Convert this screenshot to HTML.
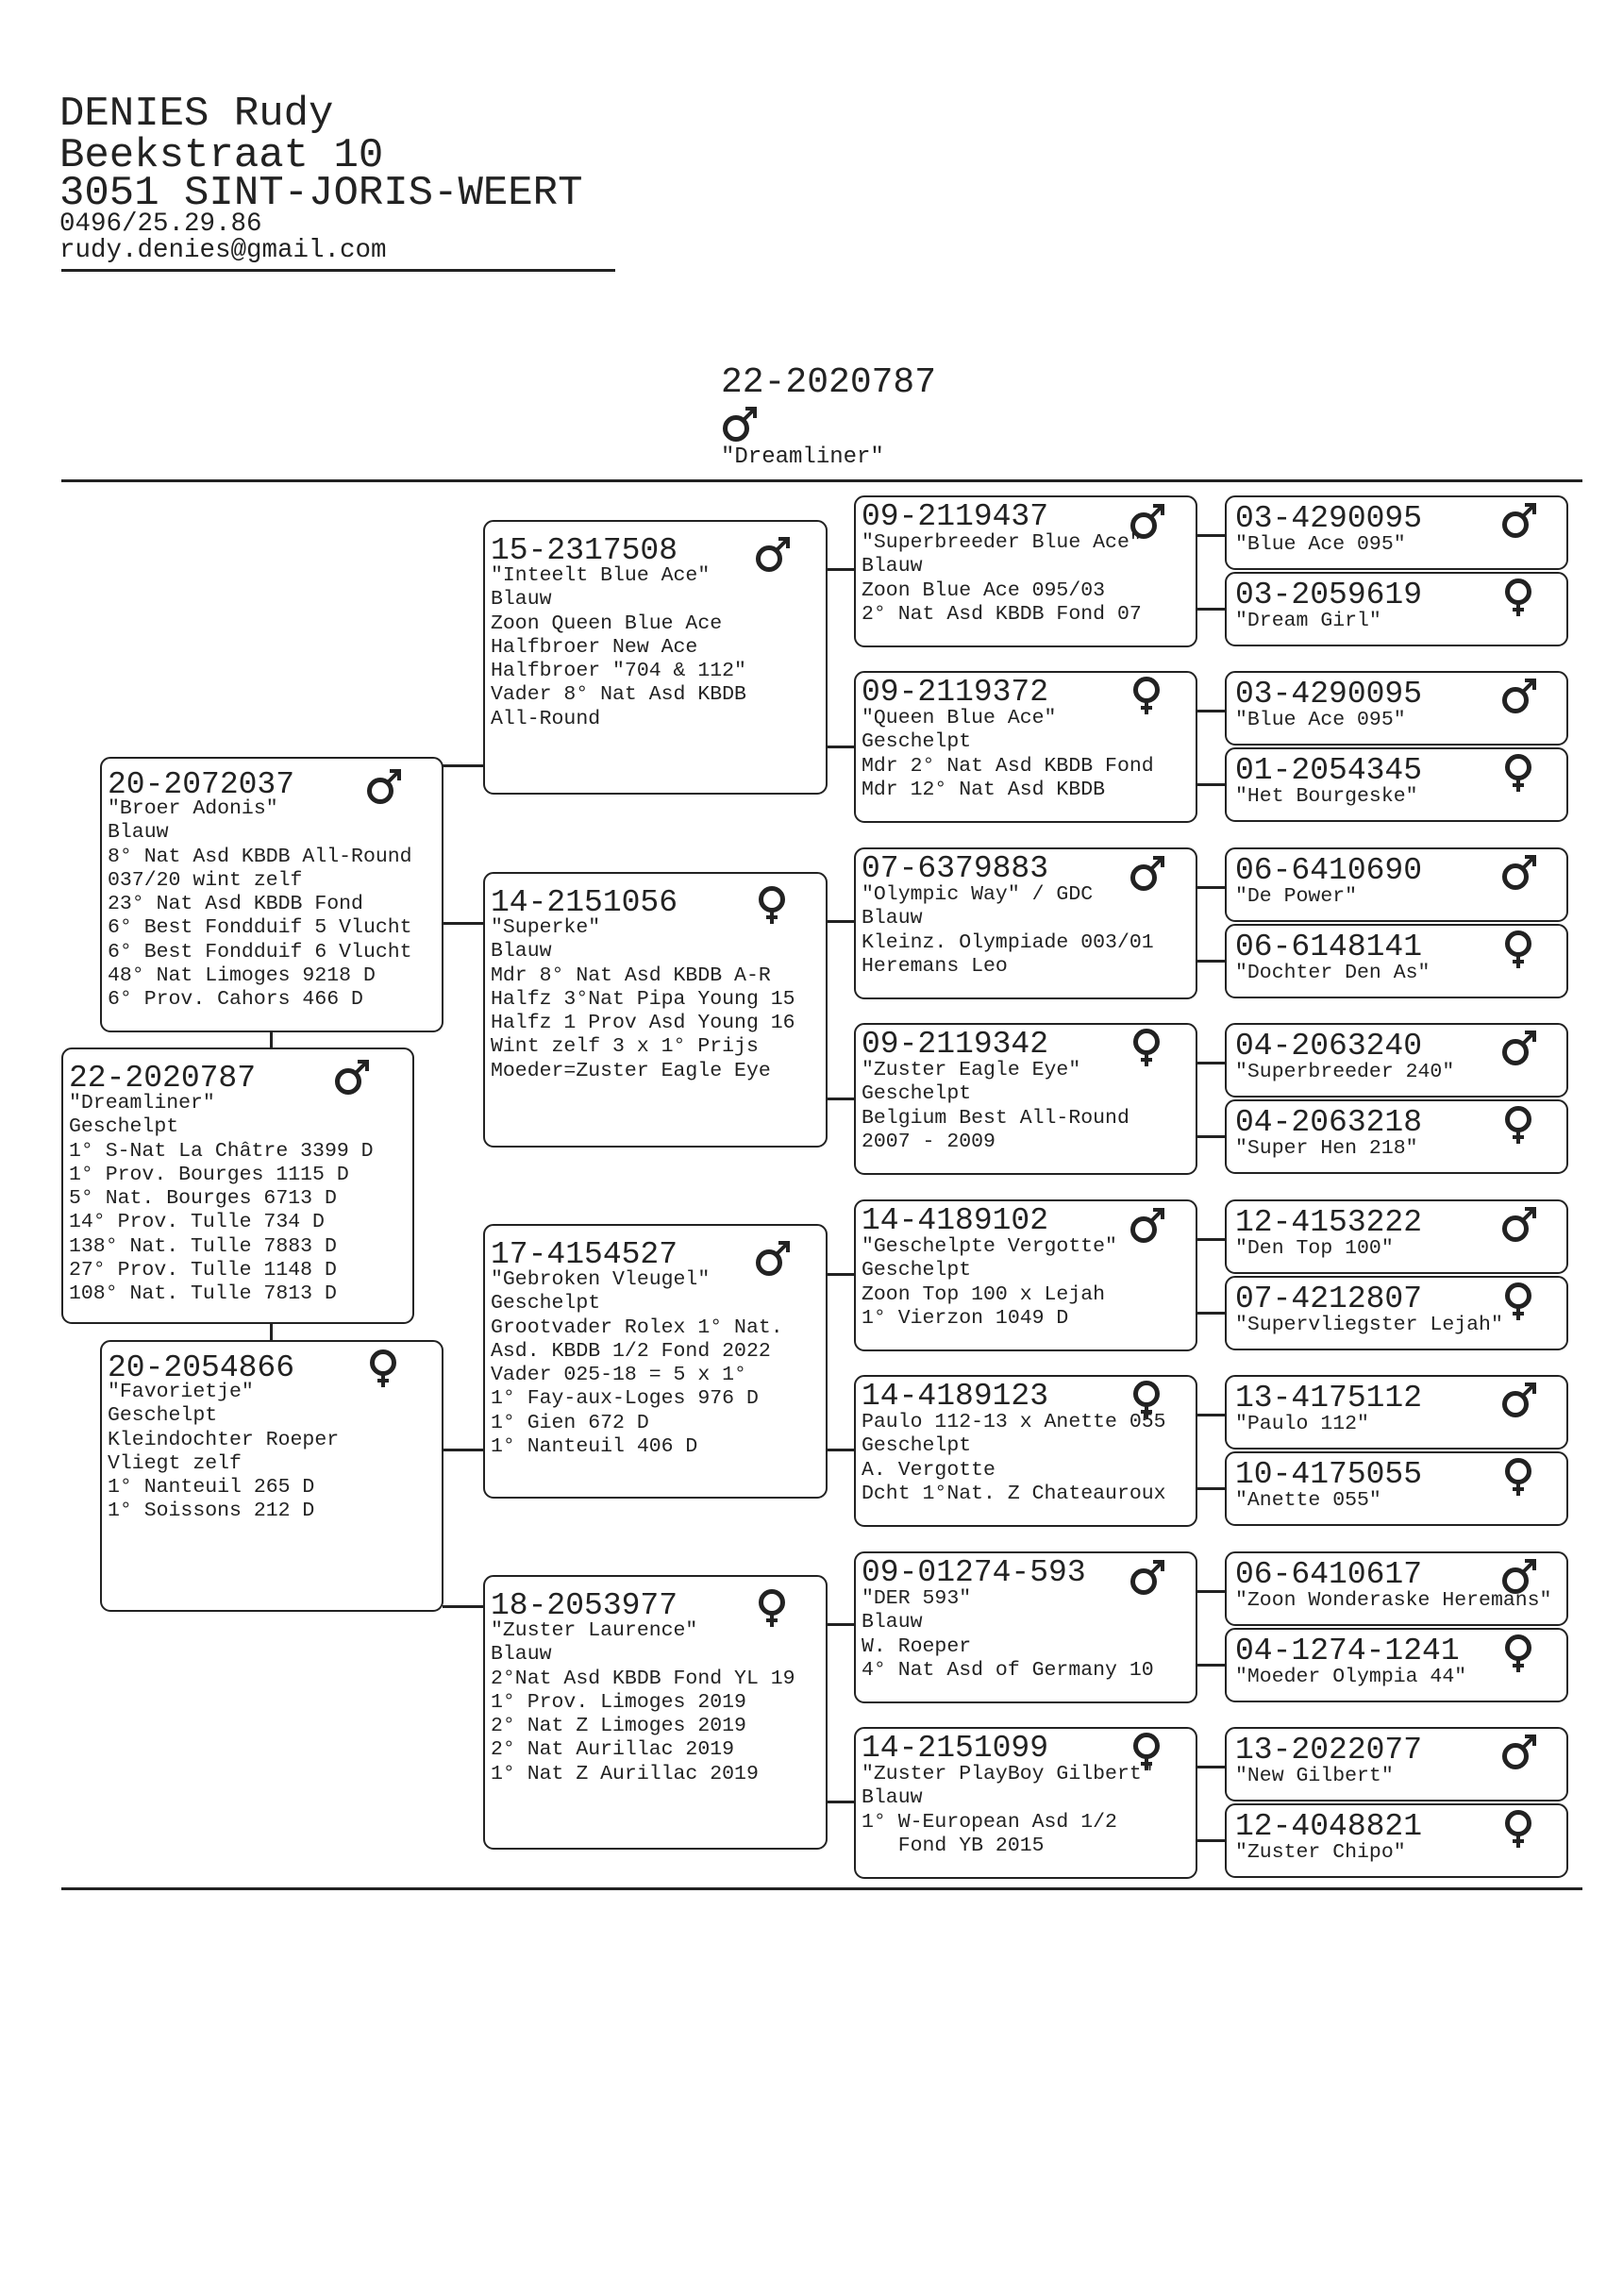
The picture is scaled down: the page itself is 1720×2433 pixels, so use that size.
<!DOCTYPE html>
<html><head><meta charset="utf-8">
<style>
body{margin:0;background:#fff;}
#p{position:relative;width:1720px;height:2433px;overflow:hidden;background:#fff;font-family:"Liberation Mono","DejaVu Sans Mono",monospace;color:#222;}
.a{position:absolute;white-space:pre;}
.b{position:absolute;border:2.5px solid #222;border-radius:11px;box-sizing:border-box;background:#fff;}
.id{position:absolute;left:6px;font-size:33px;line-height:40px;white-space:pre;}
.tx{position:absolute;left:6px;font-size:21.5px;line-height:25.3px;white-space:pre;}
.g5 .id,.g5 .tx{left:9px;}
.s{position:absolute;width:42px;height:44px;}
.h{position:absolute;background:#222;height:2.5px;}
.v{position:absolute;background:#222;width:2.5px;}
</style></head><body><div id="p">
<svg width="0" height="0" style="position:absolute">
<defs>
<symbol id="m" viewBox="0 0 42 44"><circle cx="18" cy="26" r="11.5" fill="none" stroke="#222" stroke-width="5"/><path d="M26 17 L37 6 M28 5 H38 V15" fill="none" stroke="#222" stroke-width="4"/></symbol>
<symbol id="f" viewBox="0 0 42 44"><circle cx="21" cy="16" r="11.5" fill="none" stroke="#222" stroke-width="5"/><path d="M21 28 V42 M15 35 H27" fill="none" stroke="#222" stroke-width="4"/></symbol>
</defs></svg>

<div class="a" style="left:63px;top:96px;font-size:44px;line-height:50px;">DENIES Rudy</div>
<div class="a" style="left:63px;top:140px;font-size:44px;line-height:50px;">Beekstraat 10</div>
<div class="a" style="left:63px;top:180px;font-size:44px;line-height:50px;">3051 SINT-JORIS-WEERT</div>
<div class="a" style="left:63px;top:222px;font-size:27.5px;line-height:32px;">0496/25.29.86</div>
<div class="a" style="left:63px;top:250px;font-size:27.5px;line-height:32px;">rudy.denies@gmail.com</div>
<div class="h" style="left:65px;top:285px;width:587px;"></div>

<div class="a" style="left:764px;top:384px;font-size:38px;line-height:44px;">22-2020787</div>
<svg class="s" style="left:762px;top:428px;"><use href="#m"/></svg>
<div class="a" style="left:764px;top:470px;font-size:24px;line-height:30px;">"Dreamliner"</div>
<div class="h" style="left:65px;top:508px;width:1612px;height:3px;"></div>
<div class="h" style="left:65px;top:2000px;width:1612px;height:3px;"></div>

<!-- connectors -->
<div class="v" style="left:286px;top:1093px;height:18px;"></div>
<div class="v" style="left:286px;top:1400px;height:21px;"></div>
<div class="h" style="left:469px;top:810px;width:44px;"></div>
<div class="h" style="left:469px;top:977px;width:44px;"></div>
<div class="h" style="left:469px;top:1535px;width:44px;"></div>
<div class="h" style="left:469px;top:1701px;width:44px;"></div>

<div class="h" style="left:876px;top:602px;width:30px;"></div>
<div class="h" style="left:876px;top:790px;width:30px;"></div>
<div class="h" style="left:876px;top:975px;width:30px;"></div>
<div class="h" style="left:876px;top:1163px;width:30px;"></div>
<div class="h" style="left:876px;top:1349px;width:30px;"></div>
<div class="h" style="left:876px;top:1535px;width:30px;"></div>
<div class="h" style="left:876px;top:1720px;width:30px;"></div>
<div class="h" style="left:876px;top:1908px;width:30px;"></div>

<div class="h" style="left:1268px;top:566px;width:31px;"></div>
<div class="h" style="left:1268px;top:644px;width:31px;"></div>
<div class="h" style="left:1268px;top:752px;width:31px;"></div>
<div class="h" style="left:1268px;top:830px;width:31px;"></div>
<div class="h" style="left:1268px;top:939px;width:31px;"></div>
<div class="h" style="left:1268px;top:1017px;width:31px;"></div>
<div class="h" style="left:1268px;top:1125px;width:31px;"></div>
<div class="h" style="left:1268px;top:1203px;width:31px;"></div>
<div class="h" style="left:1268px;top:1312px;width:31px;"></div>
<div class="h" style="left:1268px;top:1390px;width:31px;"></div>
<div class="h" style="left:1268px;top:1498px;width:31px;"></div>
<div class="h" style="left:1268px;top:1576px;width:31px;"></div>
<div class="h" style="left:1268px;top:1685px;width:31px;"></div>
<div class="h" style="left:1268px;top:1763px;width:31px;"></div>
<div class="h" style="left:1268px;top:1871px;width:31px;"></div>
<div class="h" style="left:1268px;top:1949px;width:31px;"></div>

<!-- Gen1 -->
<div class="b" style="left:65px;top:1110px;width:374px;height:293px;">
<div class="id" style="top:11px;">22-2020787</div>
<svg class="s" style="left:284px;top:8px;"><use href="#m"/></svg>
<div class="tx" style="top:45px;">"Dreamliner"
Geschelpt
1° S-Nat La Châtre 3399 D
1° Prov. Bourges 1115 D
5° Nat. Bourges 6713 D
14° Prov. Tulle 734 D
138° Nat. Tulle 7883 D
27° Prov. Tulle 1148 D
108° Nat. Tulle 7813 D</div></div>

<!-- Gen2 -->
<div class="b" style="left:106px;top:802px;width:364px;height:292px;">
<div class="id" style="top:8px;">20-2072037</div>
<svg class="s" style="left:277px;top:8px;"><use href="#m"/></svg>
<div class="tx" style="top:41px;">"Broer Adonis"
Blauw
8° Nat Asd KBDB All-Round
037/20 wint zelf
23° Nat Asd KBDB Fond
6° Best Fondduif 5 Vlucht
6° Best Fondduif 6 Vlucht
48° Nat Limoges 9218 D
6° Prov. Cahors 466 D</div></div>

<div class="b" style="left:106px;top:1420px;width:364px;height:288px;">
<div class="id" style="top:8px;">20-2054866</div>
<svg class="s" style="left:277px;top:6px;"><use href="#f"/></svg>
<div class="tx" style="top:41px;">"Favorietje"
Geschelpt
Kleindochter Roeper
Vliegt zelf
1° Nanteuil 265 D
1° Soissons 212 D</div></div>

<!-- Gen3 -->
<div class="b" style="left:512px;top:551px;width:365px;height:291px;">
<div class="id" style="top:11px;">15-2317508</div>
<svg class="s" style="left:283px;top:13px;"><use href="#m"/></svg>
<div class="tx" style="top:45px;">"Inteelt Blue Ace"
Blauw
Zoon Queen Blue Ace
Halfbroer New Ace
Halfbroer "704 &amp; 112"
Vader 8° Nat Asd KBDB
All-Round</div></div>

<div class="b" style="left:512px;top:924px;width:365px;height:292px;">
<div class="id" style="top:11px;">14-2151056</div>
<svg class="s" style="left:283px;top:11px;"><use href="#f"/></svg>
<div class="tx" style="top:45px;">"Superke"
Blauw
Mdr 8° Nat Asd KBDB A-R
Halfz 3°Nat Pipa Young 15
Halfz 1 Prov Asd Young 16
Wint zelf 3 x 1° Prijs
Moeder=Zuster Eagle Eye</div></div>

<div class="b" style="left:512px;top:1297px;width:365px;height:291px;">
<div class="id" style="top:11px;">17-4154527</div>
<svg class="s" style="left:283px;top:13px;"><use href="#m"/></svg>
<div class="tx" style="top:45px;">"Gebroken Vleugel"
Geschelpt
Grootvader Rolex 1° Nat.
Asd. KBDB 1/2 Fond 2022
Vader 025-18 = 5 x 1°
1° Fay-aux-Loges 976 D
1° Gien 672 D
1° Nanteuil 406 D</div></div>

<div class="b" style="left:512px;top:1669px;width:365px;height:291px;">
<div class="id" style="top:11px;">18-2053977</div>
<svg class="s" style="left:283px;top:11px;"><use href="#f"/></svg>
<div class="tx" style="top:45px;">"Zuster Laurence"
Blauw
2°Nat Asd KBDB Fond YL 19
1° Prov. Limoges 2019
2° Nat Z Limoges 2019
2° Nat Aurillac 2019
1° Nat Z Aurillac 2019</div></div>

<!-- Gen4 -->
<div class="b" style="left:905px;top:525px;width:364px;height:161px;">
<div class="id" style="top:1px;">09-2119437</div>
<svg class="s" style="left:287px;top:4px;"><use href="#m"/></svg>
<div class="tx" style="top:36px;">"Superbreeder Blue Ace"
Blauw
Zoon Blue Ace 095/03
2° Nat Asd KBDB Fond 07</div></div>

<div class="b" style="left:905px;top:711px;width:364px;height:161px;">
<div class="id" style="top:1px;">09-2119372</div>
<svg class="s" style="left:287px;top:2px;"><use href="#f"/></svg>
<div class="tx" style="top:36px;">"Queen Blue Ace"
Geschelpt
Mdr 2° Nat Asd KBDB Fond
Mdr 12° Nat Asd KBDB</div></div>

<div class="b" style="left:905px;top:898px;width:364px;height:161px;">
<div class="id" style="top:1px;">07-6379883</div>
<svg class="s" style="left:287px;top:4px;"><use href="#m"/></svg>
<div class="tx" style="top:36px;">"Olympic Way" / GDC
Blauw
Kleinz. Olympiade 003/01
Heremans Leo</div></div>

<div class="b" style="left:905px;top:1084px;width:364px;height:161px;">
<div class="id" style="top:1px;">09-2119342</div>
<svg class="s" style="left:287px;top:2px;"><use href="#f"/></svg>
<div class="tx" style="top:36px;">"Zuster Eagle Eye"
Geschelpt
Belgium Best All-Round
2007 - 2009</div></div>

<div class="b" style="left:905px;top:1271px;width:364px;height:161px;">
<div class="id" style="top:1px;">14-4189102</div>
<svg class="s" style="left:287px;top:4px;"><use href="#m"/></svg>
<div class="tx" style="top:36px;">"Geschelpte Vergotte"
Geschelpt
Zoon Top 100 x Lejah
1° Vierzon 1049 D</div></div>

<div class="b" style="left:905px;top:1457px;width:364px;height:161px;">
<div class="id" style="top:1px;">14-4189123</div>
<svg class="s" style="left:287px;top:2px;"><use href="#f"/></svg>
<div class="tx" style="top:36px;">Paulo 112-13 x Anette 055
Geschelpt
A. Vergotte
Dcht 1°Nat. Z Chateauroux</div></div>

<div class="b" style="left:905px;top:1644px;width:364px;height:161px;">
<div class="id" style="top:1px;">09-01274-593</div>
<svg class="s" style="left:287px;top:4px;"><use href="#m"/></svg>
<div class="tx" style="top:36px;">"DER 593"
Blauw
W. Roeper
4° Nat Asd of Germany 10</div></div>

<div class="b" style="left:905px;top:1830px;width:364px;height:161px;">
<div class="id" style="top:1px;">14-2151099</div>
<svg class="s" style="left:287px;top:2px;"><use href="#f"/></svg>
<div class="tx" style="top:36px;">"Zuster PlayBoy Gilbert"
Blauw
1° W-European Asd 1/2
   Fond YB 2015</div></div>

<!-- Gen5 -->
<div class="g5">
<div class="b" style="left:1298px;top:525px;width:364px;height:79px;"><div class="id" style="top:3px;">03-4290095</div><svg class="s" style="left:288px;top:3px;"><use href="#m"/></svg><div class="tx" style="top:38px;">"Blue Ace 095"</div></div>
<div class="b" style="left:1298px;top:606px;width:364px;height:79px;"><div class="id" style="top:3px;">03-2059619</div><svg class="s" style="left:288px;top:3px;"><use href="#f"/></svg><div class="tx" style="top:38px;">"Dream Girl"</div></div>
<div class="b" style="left:1298px;top:711px;width:364px;height:79px;"><div class="id" style="top:3px;">03-4290095</div><svg class="s" style="left:288px;top:3px;"><use href="#m"/></svg><div class="tx" style="top:38px;">"Blue Ace 095"</div></div>
<div class="b" style="left:1298px;top:792px;width:364px;height:79px;"><div class="id" style="top:3px;">01-2054345</div><svg class="s" style="left:288px;top:3px;"><use href="#f"/></svg><div class="tx" style="top:38px;">"Het Bourgeske"</div></div>
<div class="b" style="left:1298px;top:898px;width:364px;height:79px;"><div class="id" style="top:3px;">06-6410690</div><svg class="s" style="left:288px;top:3px;"><use href="#m"/></svg><div class="tx" style="top:38px;">"De Power"</div></div>
<div class="b" style="left:1298px;top:979px;width:364px;height:79px;"><div class="id" style="top:3px;">06-6148141</div><svg class="s" style="left:288px;top:3px;"><use href="#f"/></svg><div class="tx" style="top:38px;">"Dochter Den As"</div></div>
<div class="b" style="left:1298px;top:1084px;width:364px;height:79px;"><div class="id" style="top:3px;">04-2063240</div><svg class="s" style="left:288px;top:3px;"><use href="#m"/></svg><div class="tx" style="top:38px;">"Superbreeder 240"</div></div>
<div class="b" style="left:1298px;top:1165px;width:364px;height:79px;"><div class="id" style="top:3px;">04-2063218</div><svg class="s" style="left:288px;top:3px;"><use href="#f"/></svg><div class="tx" style="top:38px;">"Super Hen 218"</div></div>
<div class="b" style="left:1298px;top:1271px;width:364px;height:79px;"><div class="id" style="top:3px;">12-4153222</div><svg class="s" style="left:288px;top:3px;"><use href="#m"/></svg><div class="tx" style="top:38px;">"Den Top 100"</div></div>
<div class="b" style="left:1298px;top:1352px;width:364px;height:79px;"><div class="id" style="top:3px;">07-4212807</div><svg class="s" style="left:288px;top:3px;"><use href="#f"/></svg><div class="tx" style="top:38px;">"Supervliegster Lejah"</div></div>
<div class="b" style="left:1298px;top:1457px;width:364px;height:79px;"><div class="id" style="top:3px;">13-4175112</div><svg class="s" style="left:288px;top:3px;"><use href="#m"/></svg><div class="tx" style="top:38px;">"Paulo 112"</div></div>
<div class="b" style="left:1298px;top:1538px;width:364px;height:79px;"><div class="id" style="top:3px;">10-4175055</div><svg class="s" style="left:288px;top:3px;"><use href="#f"/></svg><div class="tx" style="top:38px;">"Anette 055"</div></div>
<div class="b" style="left:1298px;top:1644px;width:364px;height:79px;"><div class="id" style="top:3px;">06-6410617</div><svg class="s" style="left:288px;top:3px;"><use href="#m"/></svg><div class="tx" style="top:38px;">"Zoon Wonderaske Heremans"</div></div>
<div class="b" style="left:1298px;top:1725px;width:364px;height:79px;"><div class="id" style="top:3px;">04-1274-1241</div><svg class="s" style="left:288px;top:3px;"><use href="#f"/></svg><div class="tx" style="top:38px;">"Moeder Olympia 44"</div></div>
<div class="b" style="left:1298px;top:1830px;width:364px;height:79px;"><div class="id" style="top:3px;">13-2022077</div><svg class="s" style="left:288px;top:3px;"><use href="#m"/></svg><div class="tx" style="top:38px;">"New Gilbert"</div></div>
<div class="b" style="left:1298px;top:1911px;width:364px;height:79px;"><div class="id" style="top:3px;">12-4048821</div><svg class="s" style="left:288px;top:3px;"><use href="#f"/></svg><div class="tx" style="top:38px;">"Zuster Chipo"</div></div>
</div>
</div></body></html>
